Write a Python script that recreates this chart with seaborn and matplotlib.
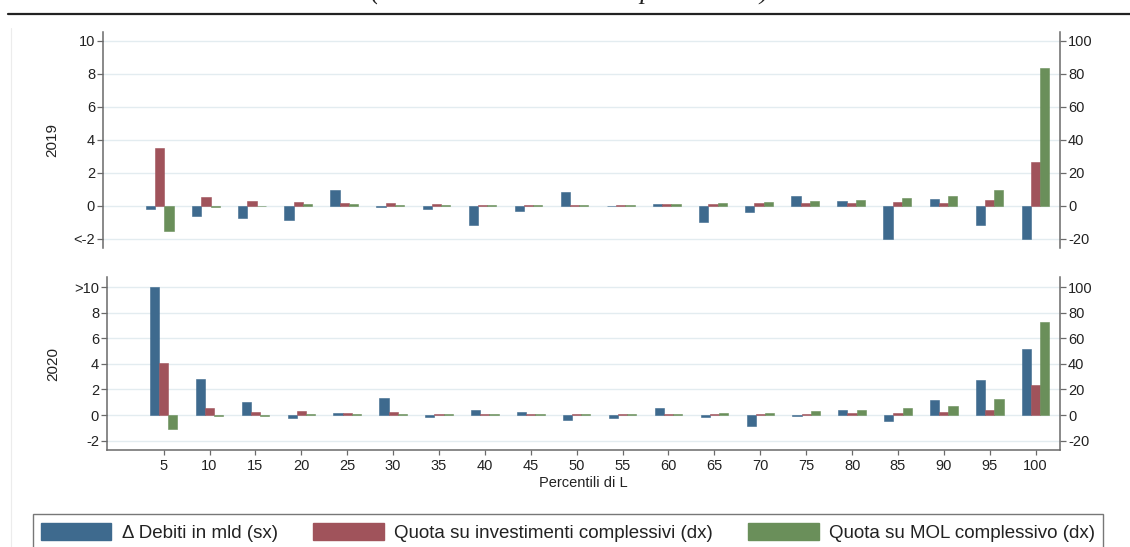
import matplotlib
matplotlib.use("Agg")
import matplotlib.pyplot as plt
from matplotlib.lines import Line2D
from matplotlib.patches import Patch
import numpy as np
import pandas as pd
import seaborn as sns

# percentiles of L
percentili = [5, 10, 15, 20, 25, 30, 35, 40, 45, 50, 55, 60, 65, 70, 75, 80, 85, 90, 95, 100]

# 2019 - debiti in mld (left axis), shares in % (right axis)
debiti_2019 = [-0.2, -0.6, -0.75, -0.85, 0.95, -0.1, -0.2, -1.15, -0.35, 0.85,
               -0.05, 0.12, -1.0, -0.38, 0.6, 0.26, -2.0, 0.43, -1.2, -2.0]
invest_2019 = [35, 5.3, 3, 2.4, 1.5, 1.5, 1, 0.5, 0.5, 0.5,
               0.5, 1, 1, 1.6, 1.6, 1.6, 2.4, 1.6, 3.5, 26.4]
mol_2019 = [-15.6, -1, -0.5, 0.8, 0.8, 0.5, 0.5, 0.5, 0.5, 0.5,
            0.4, 1, 1.5, 2.4, 2.6, 3.2, 4.5, 5.7, 9.5, 83.5]

# 2020
debiti_2020 = [10, 2.79, 1.04, -0.23, 0.18, 1.3, -0.13, 0.42, 0.2, -0.37,
               -0.23, 0.52, -0.13, -0.86, -0.1, 0.39, -0.44, 1.17, 2.74, 5.17]
invest_2020 = [41, 5.7, 2, 3.1, 1.5, 2, 0.5, 0.5, 0.5, 0.5,
               0.5, 0.5, 1, 0.8, 1, 1.6, 1.8, 2.6, 3.9, 23.6]
mol_2020 = [-11, -1, -1, 1, 0.8, 0.5, 0.5, 0.5, 0.5, 0.5,
            0.5, 1, 1.5, 1.8, 2.9, 3.9, 5.2, 7.3, 12.7, 72.5]

serie = ["Δ Debiti in mld (sx)", "Quota su investimenti complessivi (dx)",
         "Quota su MOL complessivo (dx)"]
colori = ["#3e6a8e", "#a0535b", "#6a8f5a"]

left_ticks = [-2, 0, 2, 4, 6, 8, 10]
left_labels_2019 = ["<-2", "0", "2", "4", "6", "8", "10"]
left_labels_2020 = ["-2", "0", "2", "4", "6", "8", ">10"]
right_ticks = [-20, 0, 20, 40, 60, 80, 100]

RATIO = 10  # right axis = left axis * 10


def make_df(debiti, invest, mol):
    # shares go on the right axis, so bring them to left-axis units
    rows = []
    for p, d, i, m in zip(percentili, debiti, invest, mol):
        rows.append((str(p), serie[0], d))
        rows.append((str(p), serie[1], i / RATIO))
        rows.append((str(p), serie[2], m / RATIO))
    return pd.DataFrame(rows, columns=["perc", "serie", "valore"])


sns.set_theme(style="white")
plt.rcParams["font.family"] = ["Liberation Sans", "DejaVu Sans"]
plt.rcParams["axes.unicode_minus"] = False

fig = plt.figure(figsize=(11.3, 5.47), dpi=100)
W, H = 1130, 547

ax1 = fig.add_axes([102.7 / W, 1 - 247.7 / H, (1060 - 102.7) / W, (247.7 - 32.3) / H])
ax2 = fig.add_axes([106.7 / W, 1 - 450 / H, (1060 - 106.7) / W, (450 - 277.3) / H])

spine_col = "#6a6a6a"
grid_col = "#e3ecf0"

panels = [
    (ax1, make_df(debiti_2019, invest_2019, mol_2019), (-2.55, 10.5), left_labels_2019),
    (ax2, make_df(debiti_2020, invest_2020, mol_2020), (-2.74, 10.78), left_labels_2020),
]

for ax, df, ylim, llabels in panels:
    for y in left_ticks:
        ax.axhline(y, color=grid_col, lw=1.0, zorder=0)
    sns.barplot(data=df, x="perc", y="valore", hue="serie", hue_order=serie,
                order=[str(p) for p in percentili], palette=colori, width=0.6,
                saturation=1, errorbar=None, legend=False, ax=ax,
                edgecolor=None, linewidth=0.4, zorder=2)
    for patch in ax.patches:
        patch.set_edgecolor(patch.get_facecolor())
    ax.set_xlim(-1.24, 19.53)
    ax.set_ylim(*ylim)
    ax.set_yticks(left_ticks)
    ax.set_yticklabels(llabels)
    ax.set_xlabel("")
    ax.set_ylabel("")
    ax.spines["top"].set_visible(False)
    ax.spines["right"].set_visible(False)
    ax.spines["left"].set_color(spine_col)
    ax.spines["left"].set_linewidth(1.1)
    ax.tick_params(axis="y", direction="out", length=4.3, width=0.9,
                   color=spine_col, pad=1.2, labelsize=10.5, labelcolor="#222222", left=True)

    sec = ax.secondary_yaxis("right", functions=(lambda v: v * RATIO, lambda v: v / RATIO))
    sec.set_yticks(right_ticks)
    sec.spines["right"].set_color(spine_col)
    sec.spines["right"].set_linewidth(1.1)
    sec.tick_params(axis="y", direction="out", length=4.3, width=0.9,
                    color=spine_col, pad=1.5, labelsize=10.5, labelcolor="#222222", right=True)

# top panel has no x axis
ax1.spines["bottom"].set_visible(False)
ax1.set_xticks([])

ax2.spines["bottom"].set_color(spine_col)
ax2.spines["bottom"].set_linewidth(1.1)
ax2.tick_params(axis="x", direction="out", length=3.6, width=0.9, color=spine_col,
                pad=3.0, labelsize=10.5, labelcolor="#222222", bottom=True)
ax2.set_xlabel("Percentili di L", fontsize=10.5, color="#222222", labelpad=2)

fig.text(52 / W, 1 - 140 / H, "2019", rotation=90, ha="center", va="center",
         fontsize=11, color="#222222")
fig.text(53 / W, 1 - 364 / H, "2020", rotation=90, ha="center", va="center",
         fontsize=11, color="#222222")

# title of the page above, cut off by the crop: only its lowest strokes show
fig.text(570 / W, 1 + 0.5 / H, "(miliardi di euro e valori percentuali)", ha="center",
         va="baseline", fontsize=19, fontstyle="italic",
         family=["Liberation Serif", "DejaVu Serif"], color="#222222")
fig.add_artist(Line2D([8 / W, 1], [1 - 14 / H, 1 - 14 / H], color="#222222", lw=1.6))
fig.add_artist(Line2D([11 / W, 11 / W], [0, 1 - 28 / H], color="#ececec", lw=0.8))

handles = [Patch(facecolor=c, edgecolor=c) for c in colori]
leg = fig.legend(handles, serie, loc="upper left", bbox_to_anchor=(32.7 / W, 1 - 514.3 / H),
                 ncol=3, fontsize=13.5, frameon=True, fancybox=False, shadow=False,
                 handlelength=3.75, handleheight=1.05, handletextpad=0.55,
                 columnspacing=1.9, borderpad=0.45, borderaxespad=0)
leg.get_frame().set_edgecolor("#555555")
leg.get_frame().set_linewidth(1.0)
for t in leg.get_texts():
    t.set_color("#222222")

fig.savefig("out.png", dpi=100)
